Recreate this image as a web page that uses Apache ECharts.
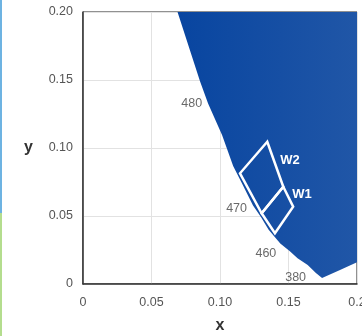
<!DOCTYPE html>
<html>
<head>
<meta charset="utf-8">
<script src="https://cdn.jsdelivr.net/npm/echarts@6/dist/echarts.min.js"></script>
<style>
html,body{margin:0;padding:0;background:#fff;}
#chart{width:362px;height:336px;}
</style>
</head>
<body>
<div id="chart"></div>
<script>
// Spectral locus boundary
const locusX = [0.0690, 0.0854, 0.0913, 0.1015, 0.1096, 0.1160, 0.1241, 0.1300, 0.1355, 0.1440, 0.1510, 0.1566, 0.1640, 0.1700, 0.1745, 0.1876, 0.2000];
const locusY = [0.2000, 0.1490, 0.1327, 0.1096, 0.0868, 0.0740, 0.0578, 0.0490, 0.0399, 0.0297, 0.0240, 0.0190, 0.0140, 0.0080, 0.0045, 0.0103, 0.0160];
// Wavelength labels on the locus
const wlNames = ['480', '470', '460', '380'];
const wlX = [0.0913, 0.1241, 0.1440, 0.1745];
const wlY = [0.1327, 0.0578, 0.0297, 0.0045];
// Bins
const w2X = [0.1345, 0.1146, 0.1304, 0.1462];
const w2Y = [0.1046, 0.0814, 0.0520, 0.0715];
const w1X = [0.1462, 0.1534, 0.1401, 0.1304];
const w1Y = [0.0715, 0.0568, 0.0373, 0.0520];
const binNames = ['W2', 'W1'];
// Ticks
const xTicks = ['0', '0.05', '0.10', '0.15', '0.2'];
const yTicks = ['0', '0.05', '0.10', '0.15', '0.20'];

const chart = echarts.init(document.getElementById('chart'), null, {renderer: 'canvas'});
const FONT = '"Liberation Sans", Arial, sans-serif';

const wlLabelStyle = [
  {distance: 6, offset: [0, 0]},
  {distance: 6, offset: [0, 3]},
  {distance: 4, offset: [0, 10]},
  {distance: 16, offset: [0, 0]}
];
const binLabelOffset = [[13, 19], [9, 8]];

function regionRender(params, api) {
  const pts = locusX.map((x, i) => api.coord([x, locusY[i]]));
  pts.push(api.coord([0.22, 0.017]));
  pts.push(api.coord([0.22, 0.22]));
  pts.push(api.coord([0.069, 0.22]));
  return {
    type: 'polygon',
    shape: {points: pts},
    style: {
      fill: new echarts.graphic.LinearGradient(0, 0, 1, 0, [
        {offset: 0, color: '#0845a0'},
        {offset: 1, color: '#2459a8'}
      ])
    }
  };
}

function binRender(params, api) {
  const i = params.dataIndex;
  const xs = i === 0 ? w2X : w1X;
  const ys = i === 0 ? w2Y : w1Y;
  const pts = xs.map((x, k) => api.coord([x, ys[k]]));
  const top = pts[0];
  return {
    type: 'group',
    children: [
      {
        type: 'polygon',
        shape: {points: pts},
        style: {fill: 'none', stroke: '#ffffff', lineWidth: 2.5, lineJoin: 'miter'}
      },
      {
        type: 'text',
        x: top[0] + binLabelOffset[i][0],
        y: top[1] + binLabelOffset[i][1],
        style: {
          text: binNames[i],
          fill: '#ffffff',
          font: 'bold 13px ' + FONT,
          verticalAlign: 'middle',
          align: 'left'
        }
      }
    ]
  };
}

const option = {
  animation: false,
  backgroundColor: '#ffffff',
  grid: {
    left: 83, top: 12, right: 5, bottom: 52,
    containLabel: false, outerBoundsMode: 'none',
    show: true, borderColor: '#222', borderWidth: 1, backgroundColor: 'transparent'
  },
  graphic: [
    {type: 'rect', left: 0, top: 0, shape: {width: 2, height: 213}, style: {fill: '#6db3e2'}},
    {type: 'rect', left: 0, top: 213, shape: {width: 2, height: 123}, style: {fill: '#b4dd8e'}}
  ],
  xAxis: {
    type: 'value', min: 0, max: 0.2, interval: 0.05,
    name: 'x', nameLocation: 'middle', nameGap: 34,
    nameTextStyle: {fontFamily: FONT, fontWeight: 'bold', fontSize: 16, color: '#333'},
    axisLine: {show: true, onZero: false, lineStyle: {color: '#333', width: 1.5}},
    axisTick: {show: false},
    axisLabel: {
      margin: 12, fontFamily: FONT, fontSize: 12.5, color: '#555',
      formatter: (v) => xTicks[Math.round(v / 0.05)]
    },
    splitLine: {show: true, lineStyle: {color: '#e2e2e2', width: 1}}
  },
  yAxis: {
    type: 'value', min: 0, max: 0.2, interval: 0.05,
    name: 'y', nameLocation: 'middle', nameGap: 50, nameRotate: 0,
    nameTextStyle: {fontFamily: FONT, fontWeight: 'bold', fontSize: 16, color: '#333'},
    axisLine: {show: true, onZero: false, lineStyle: {color: '#333', width: 1.5}},
    axisTick: {show: false},
    axisLabel: {
      margin: 10, fontFamily: FONT, fontSize: 12.5, color: '#555',
      formatter: (v) => yTicks[Math.round(v / 0.05)]
    },
    splitLine: {show: true, lineStyle: {color: '#e2e2e2', width: 1}}
  },
  series: [
    {
      type: 'custom', clip: true, silent: true, z: 2,
      data: [0],
      renderItem: regionRender
    },
    {
      type: 'custom', clip: true, silent: true, z: 3,
      data: [0, 1],
      renderItem: binRender
    },
    {
      type: 'scatter', symbolSize: 0, z: 4, silent: true,
      data: wlNames.map((n, i) => ({
        value: [wlX[i], wlY[i]],
        name: n,
        label: {
          show: true, position: 'left', formatter: n,
          distance: wlLabelStyle[i].distance, offset: wlLabelStyle[i].offset,
          fontFamily: FONT, fontSize: 12.5, color: '#444'
        }
      }))
    }
  ]
};
chart.setOption(option);
</script>
</body>
</html>
